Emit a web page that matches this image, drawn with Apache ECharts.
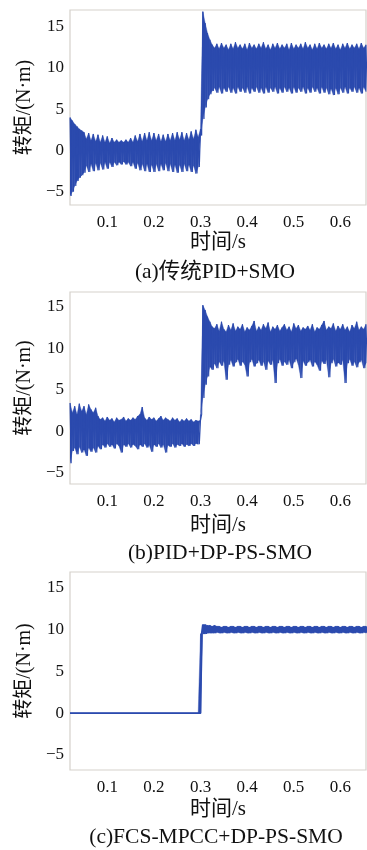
<!DOCTYPE html>
<html>
<head>
<meta charset="utf-8">
<script src="https://cdn.jsdelivr.net/npm/echarts@6/dist/echarts.min.js"></script>
<style>
  html, body { margin: 0; padding: 0; background: #ffffff; }
  #chart { width: 367px; height: 850px; }
</style>
</head>
<body>
<div id="chart"></div>
<script>
// Sampling of the torque envelopes: first sample time and spacing (s)
const T0 = 0.02;
const DT = 0.005;

// Time axis range shared by the three panels
const timeMin = 0.02;
const timeMax = 0.655;

// Panel captions and axis names
const captions = ['(a)传统PID+SMO', '(b)PID+DP-PS-SMO', '(c)FCS-MPCC+DP-PS-SMO'];
const yName = '转矩/(N·m)';
const xName = '时间/s';

// (a) conventional PID + SMO: upper / lower envelope of the torque ripple (N·m)
const aUpper = [
  4.0, 3.6, 3.2, 2.9, 2.6, 2.4, 2.2,
  1.4, 2.1, 1.2, 2.0, 1.1, 1.9, 1.0, 1.8, 1.0, 1.7, 0.9, 1.5, 1.0, 1.3,
  1.0, 1.2, 1.0, 1.3, 1.0, 1.5, 1.0, 1.8, 1.1, 2.0, 1.1, 2.1, 1.2, 2.2,
  1.2, 2.1, 1.2, 2.0, 1.1, 1.9, 1.1, 2.0, 1.2, 2.1, 1.2, 2.2, 1.3, 2.2,
  1.2, 2.1, 1.3, 2.3, 1.4, 2.5, 1.6,
  2.6, 16.8, 15.4, 14.2, 13.4, 12.8,
  12.4, 12.9, 12.3, 13.0, 12.4, 12.8, 12.2, 12.9, 12.3, 13.1,
  12.4, 12.8, 12.3, 12.9, 12.2, 13.0, 12.4, 12.8, 12.3, 12.9,
  12.4, 13.1, 12.3, 12.8, 12.2, 12.9, 12.4, 13.0, 12.3, 12.8,
  12.4, 12.9, 12.2, 13.0, 12.3, 12.8, 12.4, 12.9, 12.3, 13.1,
  12.4, 12.8, 12.2, 12.9, 12.3, 13.0, 12.4, 12.8, 12.3, 12.9,
  12.4, 13.0, 12.3, 12.8, 12.2, 12.9, 12.4, 13.0, 12.3, 12.8,
  12.4, 12.9, 12.3, 13.0, 12.4, 12.8
];
const aLower = [
  -5.5, -5.0, -4.3, -3.7, -3.3, -3.0, -2.7,
  -1.8, -2.6, -1.6, -2.5, -1.5, -2.4, -1.5, -2.3, -1.4, -2.2, -1.4, -2.0, -1.4, -1.8,
  -1.4, -1.7, -1.3, -1.7, -1.4, -1.9, -1.4, -2.2, -1.5, -2.4, -1.6, -2.5, -1.6, -2.6,
  -1.7, -2.6, -1.6, -2.5, -1.6, -2.4, -1.5, -2.5, -1.6, -2.6, -1.7, -2.7, -1.7, -2.6,
  -1.6, -2.5, -1.7, -2.6, -1.8, -2.8, -2.0,
  1.8, 3.8, 5.2, 6.2, 6.8, 7.2,
  7.6, 7.0, 7.7, 6.9, 7.6, 7.1, 7.7, 7.0, 7.6, 6.9,
  7.7, 7.1, 7.6, 7.0, 7.7, 6.9, 7.6, 7.1, 7.7, 7.0,
  7.6, 6.9, 7.7, 7.0, 7.6, 7.1, 7.7, 6.9, 7.6, 7.0,
  7.7, 7.1, 7.6, 6.9, 7.7, 7.0, 7.6, 7.1, 7.7, 6.9,
  7.6, 7.0, 7.7, 7.1, 7.6, 6.9, 7.7, 7.0, 7.6, 6.8,
  7.5, 6.7, 7.6, 6.8, 7.6, 7.0, 7.7, 6.9, 7.6, 7.1,
  7.7, 7.0, 7.6, 6.9, 7.7, 7.1
];

// (b) PID + DP-PS-SMO
const bUpper = [
  3.4, 2.2, 3.0, 2.0, 3.3, 2.4, 3.0, 2.0, 3.2, 2.6,
  2.2, 2.8, 1.8, 1.4, 1.6, 1.2, 1.7, 1.3, 1.5, 1.1,
  1.6, 1.3, 1.4, 1.7, 1.2, 1.5, 1.3, 1.6, 1.4, 1.8,
  2.0, 2.9, 1.6, 1.3, 1.7, 1.4, 1.6, 1.2, 1.5, 1.8,
  1.3, 1.6, 1.4, 1.2, 1.6, 1.3, 1.5, 1.1, 1.4, 1.2,
  1.5, 1.2, 1.4, 1.1, 1.3, 1.2,
  1.3, 15.2, 14.6, 13.8, 13.2, 12.6,
  12.4, 12.9, 12.1, 13.2, 12.3, 12.0, 12.8, 12.2, 13.0, 12.1,
  12.6, 12.3, 12.9, 12.0, 12.5, 12.2, 12.7, 13.3, 12.1, 12.6,
  12.2, 12.9, 12.4, 13.1, 12.0, 12.6, 12.3, 12.8, 12.1, 12.5,
  12.9, 12.2, 12.6, 12.0, 13.0, 12.4, 12.8, 12.1, 12.5, 12.3,
  12.7, 12.2, 12.9, 12.0, 12.5, 12.3, 12.8, 13.3, 12.2, 12.6,
  12.4, 13.0, 12.1, 12.7, 12.3, 12.9, 12.2, 12.6, 12.0, 12.8,
  12.4, 13.2, 12.2, 12.6, 12.3, 12.9
];
const bLower = [
  -3.9, -2.4, -2.0, -2.8, -1.9, -2.6, -2.2, -3.0, -2.0, -2.5,
  -2.0, -2.6, -1.8, -2.2, -1.6, -2.0, -1.5, -1.9, -1.6, -2.1,
  -1.5, -1.8, -2.6, -1.6, -1.9, -1.5, -2.0, -1.6, -1.8, -2.2,
  -1.6, -1.9, -1.5, -2.0, -1.7, -2.5, -1.6, -1.9, -1.5, -2.0,
  -1.6, -2.6, -1.7, -1.9, -1.5, -2.0, -1.6, -1.8, -1.5, -1.9,
  -1.6, -1.8, -1.5, -1.8, -1.5, -1.6,
  2.0, 4.0, 5.6, 6.6, 7.8, 7.4,
  8.2, 7.6, 8.4, 7.9, 8.5, 6.2, 8.0, 8.6, 7.8, 8.3,
  8.7, 7.9, 8.4, 8.0, 6.6, 8.3, 8.7, 7.8, 8.2, 8.6,
  7.9, 8.4, 7.4, 8.5, 8.0, 8.6, 5.8, 8.2, 8.7, 7.9,
  8.4, 8.0, 8.6, 7.6, 8.3, 8.8, 8.0, 6.4, 8.5, 7.9,
  8.3, 8.6, 7.8, 8.4, 8.0, 7.3, 8.5, 8.1, 8.6, 6.5,
  8.2, 8.7, 7.8, 8.3, 8.0, 8.6, 5.8, 8.2, 8.7, 7.9,
  8.4, 7.7, 8.3, 8.6, 7.6, 8.2
];

// (c) FCS-MPCC + DP-PS-SMO
const cUpper = [
  0, 0, 0, 0, 0, 0, 0, 0, 0, 0,
  0, 0, 0, 0, 0, 0, 0, 0, 0, 0,
  0, 0, 0, 0, 0, 0, 0, 0, 0, 0,
  0, 0, 0, 0, 0, 0, 0, 0, 0, 0,
  0, 0, 0, 0, 0, 0, 0, 0, 0, 0,
  0, 0, 0, 0, 0, 0, 0,
  10.6, 10.6, 10.5, 10.5, 10.4, 10.5, 10.4, 10.4, 10.3, 10.4,
  10.4, 10.3, 10.4, 10.4, 10.3, 10.4, 10.4, 10.3, 10.4, 10.4,
  10.3, 10.4, 10.4, 10.3, 10.4, 10.4, 10.3, 10.4, 10.4, 10.3,
  10.4, 10.4, 10.3, 10.4, 10.4, 10.3, 10.4, 10.4, 10.3, 10.4,
  10.4, 10.3, 10.4, 10.4, 10.3, 10.4, 10.4, 10.3, 10.4, 10.4,
  10.3, 10.4, 10.4, 10.3, 10.4, 10.4, 10.3, 10.4, 10.4, 10.3,
  10.4, 10.4, 10.3, 10.4, 10.4, 10.3, 10.4, 10.4, 10.3, 10.4,
  10.4
];
const cLower = [
  0, 0, 0, 0, 0, 0, 0, 0, 0, 0,
  0, 0, 0, 0, 0, 0, 0, 0, 0, 0,
  0, 0, 0, 0, 0, 0, 0, 0, 0, 0,
  0, 0, 0, 0, 0, 0, 0, 0, 0, 0,
  0, 0, 0, 0, 0, 0, 0, 0, 0, 0,
  0, 0, 0, 0, 0, 0,
  9.5, 9.5, 9.5, 9.6, 9.6, 9.6, 9.6, 9.7, 9.6, 9.6,
  9.7, 9.6, 9.6, 9.7, 9.6, 9.6, 9.7, 9.6, 9.6, 9.7,
  9.6, 9.6, 9.7, 9.6, 9.6, 9.7, 9.6, 9.6, 9.7, 9.6,
  9.6, 9.7, 9.6, 9.6, 9.7, 9.6, 9.6, 9.7, 9.6, 9.6,
  9.7, 9.6, 9.6, 9.7, 9.6, 9.6, 9.7, 9.6, 9.6, 9.7,
  9.6, 9.6, 9.7, 9.6, 9.6, 9.7, 9.6, 9.6, 9.7, 9.6,
  9.6, 9.7, 9.6, 9.6, 9.7, 9.6, 9.6, 9.7, 9.6, 9.6,
  9.7, 9.6
];

// Vertical range of each panel (N·m)
const yRanges = [[-6.6, 17], [-6.4, 16.8], [-6.8, 16.9]];

// Interleave upper/lower samples so the trace swings across the ripple band
function rippleTrace(upper, lower) {
  const pts = [];
  for (let i = 0; i < upper.length; i++) {
    const t = T0 + i * DT;
    pts.push([t, upper[i]]);
    if (i < lower.length) pts.push([t + DT / 2, lower[i]]);
  }
  return pts;
}
// Rows [t, upper, lower] for the shaded ripple band
function bandRows(upper, lower) {
  return upper.map((v, i) => [T0 + i * DT, v, lower[i]]);
}

const FONT = "'Liberation Serif', 'Noto Sans CJK SC', serif";
const TEXT = '#111111';
const BORDER = '#d5d1cb';
const TRACE = '#2b4aae';

const grids = [
  { left: 70, top: 10, width: 296, height: 195 },
  { left: 70, top: 292, width: 296, height: 192 },
  { left: 70, top: 572, width: 296, height: 198 }
];

const captionPos = [[215, 272], [220, 553], [216, 837]];

const panels = [[aUpper, aLower], [bUpper, bLower], [cUpper, cLower]];

const series = [];
panels.forEach((p, k) => {
  const rows = bandRows(p[0], p[1]);
  // Shaded band between consecutive envelope samples
  series.push({
    type: 'custom',
    coordinateSystem: 'cartesian2d',
    xAxisIndex: k, yAxisIndex: k,
    data: rows,
    encode: { x: 0, y: [1, 2] },
    silent: true,
    clip: true,
    renderItem: (params, api) => {
      const i = params.dataIndex;
      if (i >= rows.length - 1) return null;
      const r0 = rows[i], r1 = rows[i + 1];
      return {
        type: 'polygon',
        shape: {
          points: [
            api.coord([r0[0], r0[1]]),
            api.coord([r1[0], r1[1]]),
            api.coord([r1[0], r1[2]]),
            api.coord([r0[0], r0[2]])
          ]
        },
        style: { fill: TRACE, stroke: TRACE, lineWidth: 0.4 }
      };
    }
  });
  // Oscillating trace drawn over the band
  series.push({
    type: 'line', xAxisIndex: k, yAxisIndex: k,
    data: rippleTrace(p[0], p[1]),
    symbol: 'none', showSymbol: false, silent: true,
    lineStyle: { color: TRACE, width: k === 2 ? 1.8 : 1.1 }
  });
});

const option = {
  animation: false,
  backgroundColor: '#ffffff',
  grid: grids.map(g => Object.assign({ show: true, borderColor: BORDER, borderWidth: 1.2, backgroundColor: 'transparent' }, g)),
  xAxis: grids.map((g, k) => ({
    type: 'value',
    gridIndex: k,
    min: timeMin,
    max: timeMax,
    name: xName,
    nameLocation: 'middle',
    nameGap: k === 2 ? 29 : (k === 1 ? 31 : 27),
    nameTextStyle: { fontFamily: FONT, fontSize: 21, color: TEXT },
    axisLine: { show: false },
    axisTick: { show: false },
    splitLine: { show: false },
    axisLabel: {
      margin: 9,
      fontFamily: FONT,
      fontSize: 17,
      color: TEXT,
      showMinLabel: false,
      showMaxLabel: false,
      formatter: v => {
        const r = Math.round(v * 10);
        return Math.abs(v * 10 - r) < 1e-6 ? (r / 10).toFixed(1) : '';
      }
    }
  })),
  yAxis: grids.map((g, k) => ({
    type: 'value',
    gridIndex: k,
    min: yRanges[k][0],
    max: yRanges[k][1],
    name: yName,
    nameLocation: 'middle',
    nameGap: 33,
    nameTextStyle: { fontFamily: FONT, fontSize: 20, color: TEXT },
    axisLine: { show: false },
    axisTick: { show: false },
    splitLine: { show: false },
    axisLabel: {
      margin: 6,
      fontFamily: FONT,
      fontSize: 17,
      color: TEXT,
      showMinLabel: false,
      showMaxLabel: false,
      formatter: v => (Math.abs(v % 5) < 1e-6 ? String(v).replace('-', '\u2212') : '')
    }
  })),
  series: series,
  graphic: captions.map((txt, k) => ({
    type: 'text',
    x: captionPos[k][0],
    y: captionPos[k][1],
    style: {
      text: txt,
      font: '21.5px ' + FONT,
      fill: TEXT,
      align: 'center',
      verticalAlign: 'middle',
      textAlign: 'center',
      textVerticalAlign: 'middle'
    }
  }))
};

const chart = echarts.init(document.getElementById('chart'), null, { renderer: 'canvas' });
chart.setOption(option);
</script>
</body>
</html>
